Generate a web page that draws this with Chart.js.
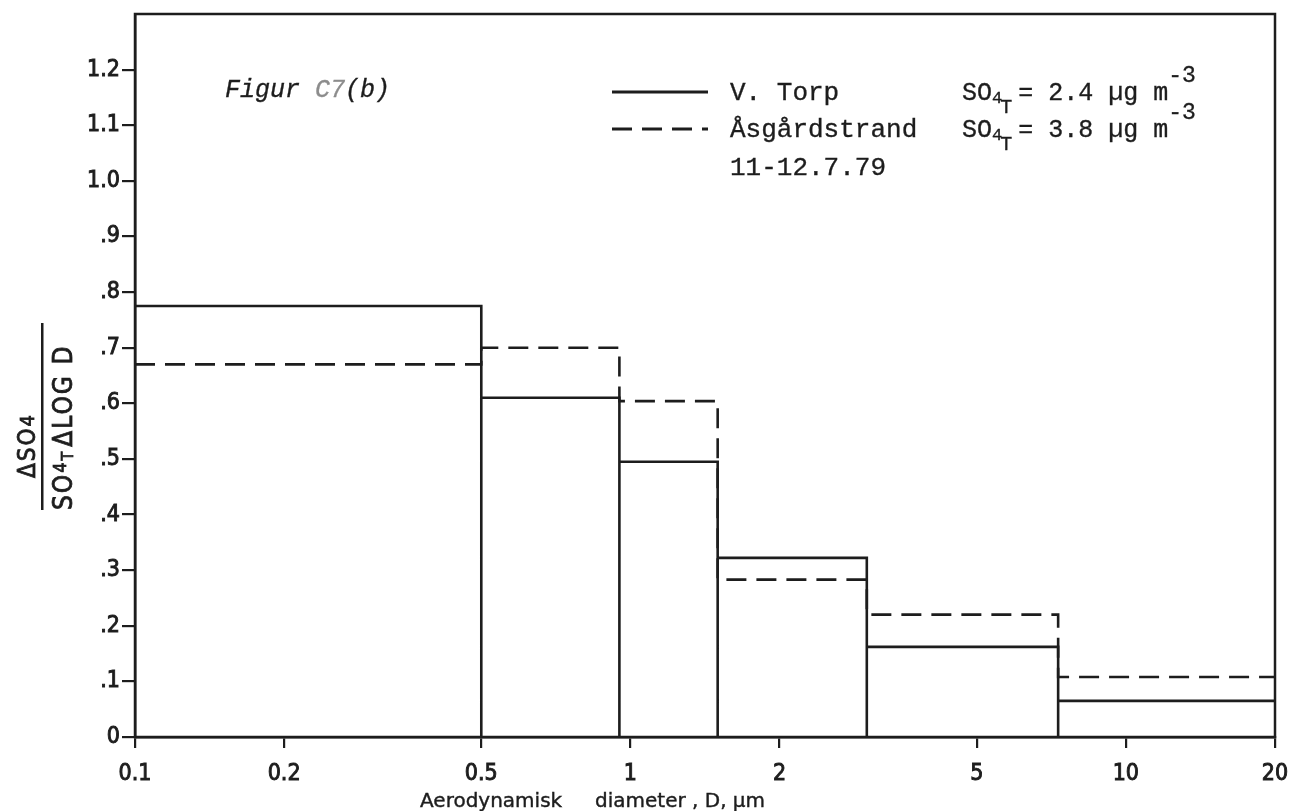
<!DOCTYPE html>
<html>
<head>
<meta charset="utf-8">
<title>Figur C7(b)</title>
<script src="https://cdn.jsdelivr.net/npm/chart.js@4.4.1/dist/chart.umd.min.js"></script>
<style>
  html, body { margin: 0; padding: 0; background: #ffffff; }
  #wrap { width: 1289px; height: 811px; }
</style>
</head>
<body>
<div id="wrap"><canvas id="chart" width="1289" height="811"></canvas></div>
<script>
// Impactor stage boundaries (aerodynamic diameter, µm)
const binEdges = [0.1, 0.5, 0.95, 1.5, 3.0, 7.3, 20];
// Normalised sulphate per stage, ΔSO4 / (SO4,T · ΔlogD)
const torpValues   = [0.775, 0.61, 0.495, 0.322, 0.162, 0.065];
const asgardValues = [0.67, 0.70, 0.604, 0.283, 0.22, 0.108];
const seriesNames  = ['V. Torp', 'Åsgårdstrand'];
const seriesTotals = ['2.4', '3.8'];

const xTickValues = [0.1, 0.2, 0.5, 1, 2, 5, 10, 20];
const xTickLabels = ['0.1', '0.2', '0.5', '1', '2', '5', '10', '20'];
const yTickValues = [0, 0.1, 0.2, 0.3, 0.4, 0.5, 0.6, 0.7, 0.8, 0.9, 1.0, 1.1, 1.2];
const yTickLabels = ['0', '.1', '.2', '.3', '.4', '.5', '.6', '.7', '.8', '.9', '1.0', '1.1', '1.2'];

const INK = '#1d1d1d';
const LETTER_FONT = '"DejaVu Sans Condensed", "DejaVu Sans", sans-serif';
const TYPE_FONT = '"Liberation Mono", "DejaVu Sans Mono", monospace';

// Histogram outline with walls dropping to the axis at every stage boundary
function outlineWithWalls(edges, vals) {
  const pts = [];
  for (let i = 0; i < vals.length; i++) {
    pts.push({ x: edges[i], y: vals[i] });
    pts.push({ x: edges[i + 1], y: vals[i] });
    if (i < vals.length - 1) pts.push({ x: edges[i + 1], y: 0 });
  }
  return pts;
}
// Plain step outline (no walls to the axis)
function stepOutline(edges, vals) {
  const pts = [];
  for (let i = 0; i < vals.length; i++) {
    pts.push({ x: edges[i], y: vals[i] });
    pts.push({ x: edges[i + 1], y: vals[i] });
  }
  return pts;
}

// text with a thin outline so it reads like ink rather than a hairline
function inkText(ctx, str, x, y, w) {
  ctx.fillText(str, x, y);
  ctx.lineWidth = w;
  ctx.strokeText(str, x, y);
}

const decor = {
  id: 'decor',
  afterDraw(chart) {
    const { ctx, chartArea: a } = chart;
    ctx.save();

    // closed frame around the plot
    ctx.strokeStyle = INK;
    ctx.lineWidth = 2.5;
    ctx.setLineDash([]);
    ctx.strokeRect(a.left, a.top, a.right - a.left, a.bottom - a.top);

    ctx.fillStyle = INK;
    ctx.textBaseline = 'alphabetic';
    ctx.textAlign = 'left';

    // y-axis title: ΔSO4 / (SO4,T ΔLOG D), read bottom to top
    ctx.save();
    ctx.translate(0, 510);
    ctx.rotate(-Math.PI / 2);
    ctx.letterSpacing = '2px';
    ctx.font = '24px ' + LETTER_FONT;
    let tx = 32;
    inkText(ctx, 'ΔSO', tx, 35, 0.8);
    tx += ctx.measureText('ΔSO').width;
    ctx.font = '20px ' + LETTER_FONT;
    inkText(ctx, '4', tx, 34, 0.8);
    ctx.fillRect(0, 41, 187, 2.5);
    ctx.font = '26px ' + LETTER_FONT;
    tx = 0;
    inkText(ctx, 'SO', tx, 72, 0.8);
    tx += ctx.measureText('SO').width;
    ctx.font = '18px ' + LETTER_FONT;
    inkText(ctx, '4', tx, 66, 0.8);
    tx += ctx.measureText('4').width;
    ctx.font = '16px ' + LETTER_FONT;
    inkText(ctx, 'T', tx, 73, 0.8);
    tx += ctx.measureText('T').width + 3;
    ctx.font = '26px ' + LETTER_FONT;
    inkText(ctx, 'ΔLOG D', tx, 72, 0.8);
    ctx.restore();

    // x-axis title
    ctx.font = '20px "DejaVu Sans", sans-serif';
    inkText(ctx, 'Aerodynamisk', 420, 807, 0.4);
    inkText(ctx, 'diameter , D, μm', 595, 807, 0.4);

    // figure tag
    ctx.font = 'italic 25px ' + TYPE_FONT;
    let fx = 225;
    inkText(ctx, 'Figur ', fx, 97, 0.35);
    fx += ctx.measureText('Figur ').width;
    ctx.fillStyle = '#8c8c8c';
    ctx.strokeStyle = '#8c8c8c';
    inkText(ctx, 'C7', fx, 97, 0.35);
    fx += ctx.measureText('C7').width;
    ctx.fillStyle = INK;
    ctx.strokeStyle = INK;
    inkText(ctx, '(b)', fx, 97, 0.35);

    // legend rows
    const rows = [100, 137];
    chart.data.datasets.forEach((ds, i) => {
      const base = rows[i];
      ctx.strokeStyle = INK;
      ctx.lineWidth = 3;
      ctx.setLineDash(ds.borderDash || []);
      ctx.beginPath();
      ctx.moveTo(612, base - 8);
      ctx.lineTo(708, base - 8);
      ctx.stroke();
      ctx.setLineDash([]);

      ctx.font = '26px ' + TYPE_FONT;
      inkText(ctx, ds.label, 730, base, 0.35);

      let sx = 962;
      ctx.font = '25px ' + TYPE_FONT;
      inkText(ctx, 'SO', sx, base, 0.35);
      sx += ctx.measureText('SO').width;
      ctx.font = '17px ' + TYPE_FONT;
      inkText(ctx, '4', sx, base + 3, 0.35);
      sx += ctx.measureText('4').width - 2;
      ctx.font = '20px ' + TYPE_FONT;
      inkText(ctx, 'T', sx, base + 13, 0.35);
      sx += ctx.measureText('T').width + 6;
      ctx.font = '25px ' + TYPE_FONT;
      const txt = '= ' + seriesTotals[i] + ' µg m';
      inkText(ctx, txt, sx, base, 0.35);
      sx += ctx.measureText(txt).width;
      ctx.font = '23px ' + TYPE_FONT;
      inkText(ctx, '-3', sx, base - 18, 0.35);
    });
    ctx.font = '26px ' + TYPE_FONT;
    inkText(ctx, '11-12.7.79', 730, 175, 0.35);

    ctx.restore();
  }
};

new Chart(document.getElementById('chart'), {
  type: 'scatter',
  data: {
    datasets: [
      {
        label: seriesNames[0],
        data: outlineWithWalls(binEdges, torpValues),
        showLine: true,
        borderColor: INK,
        borderWidth: 2.6,
        pointRadius: 0,
        fill: false,
        tension: 0,
        borderJoinStyle: 'miter'
      },
      {
        label: seriesNames[1],
        data: stepOutline(binEdges, asgardValues),
        showLine: true,
        borderColor: INK,
        borderWidth: 2.6,
        borderDash: [20, 10],
        pointRadius: 0,
        fill: false,
        tension: 0,
        borderJoinStyle: 'miter'
      }
    ]
  },
  options: {
    responsive: false,
    animation: false,
    devicePixelRatio: 1,
    layout: { padding: { top: 14, right: 14, left: 0, bottom: 0 } },
    plugins: { legend: { display: false }, tooltip: { enabled: false } },
    scales: {
      x: {
        type: 'logarithmic',
        position: 'bottom',
        min: 0.1,
        max: 20,
        afterBuildTicks: s => { s.ticks = xTickValues.map(v => ({ value: v })); },
        afterFit: s => { s.height = 74; s.paddingLeft = 0; s.paddingRight = 0; },
        ticks: {
          callback: (v, i) => xTickLabels[i],
          autoSkip: false,
          maxRotation: 0,
          padding: 12,
          color: INK,
          textStrokeColor: INK,
          textStrokeWidth: 0.9,
          font: { family: LETTER_FONT, size: 23 }
        },
        grid: { drawOnChartArea: false, drawTicks: true, tickLength: 11, color: INK, lineWidth: 2.2 },
        border: { display: true, color: INK, width: 2.5 }
      },
      y: {
        type: 'linear',
        min: 0,
        max: 1.3,
        afterBuildTicks: s => { s.ticks = yTickValues.map(v => ({ value: v })); },
        afterFit: s => { s.width = 135; s.paddingTop = 0; s.paddingBottom = 0; },
        ticks: {
          callback: (v, i) => yTickLabels[i],
          autoSkip: false,
          padding: 2,
          color: INK,
          textStrokeColor: INK,
          textStrokeWidth: 0.9,
          font: { family: LETTER_FONT, size: 23 }
        },
        grid: { drawOnChartArea: false, drawTicks: true, tickLength: 13, color: INK, lineWidth: 2.2 },
        border: { display: true, color: INK, width: 2.5 }
      }
    }
  },
  plugins: [decor]
});
</script>
</body>
</html>
